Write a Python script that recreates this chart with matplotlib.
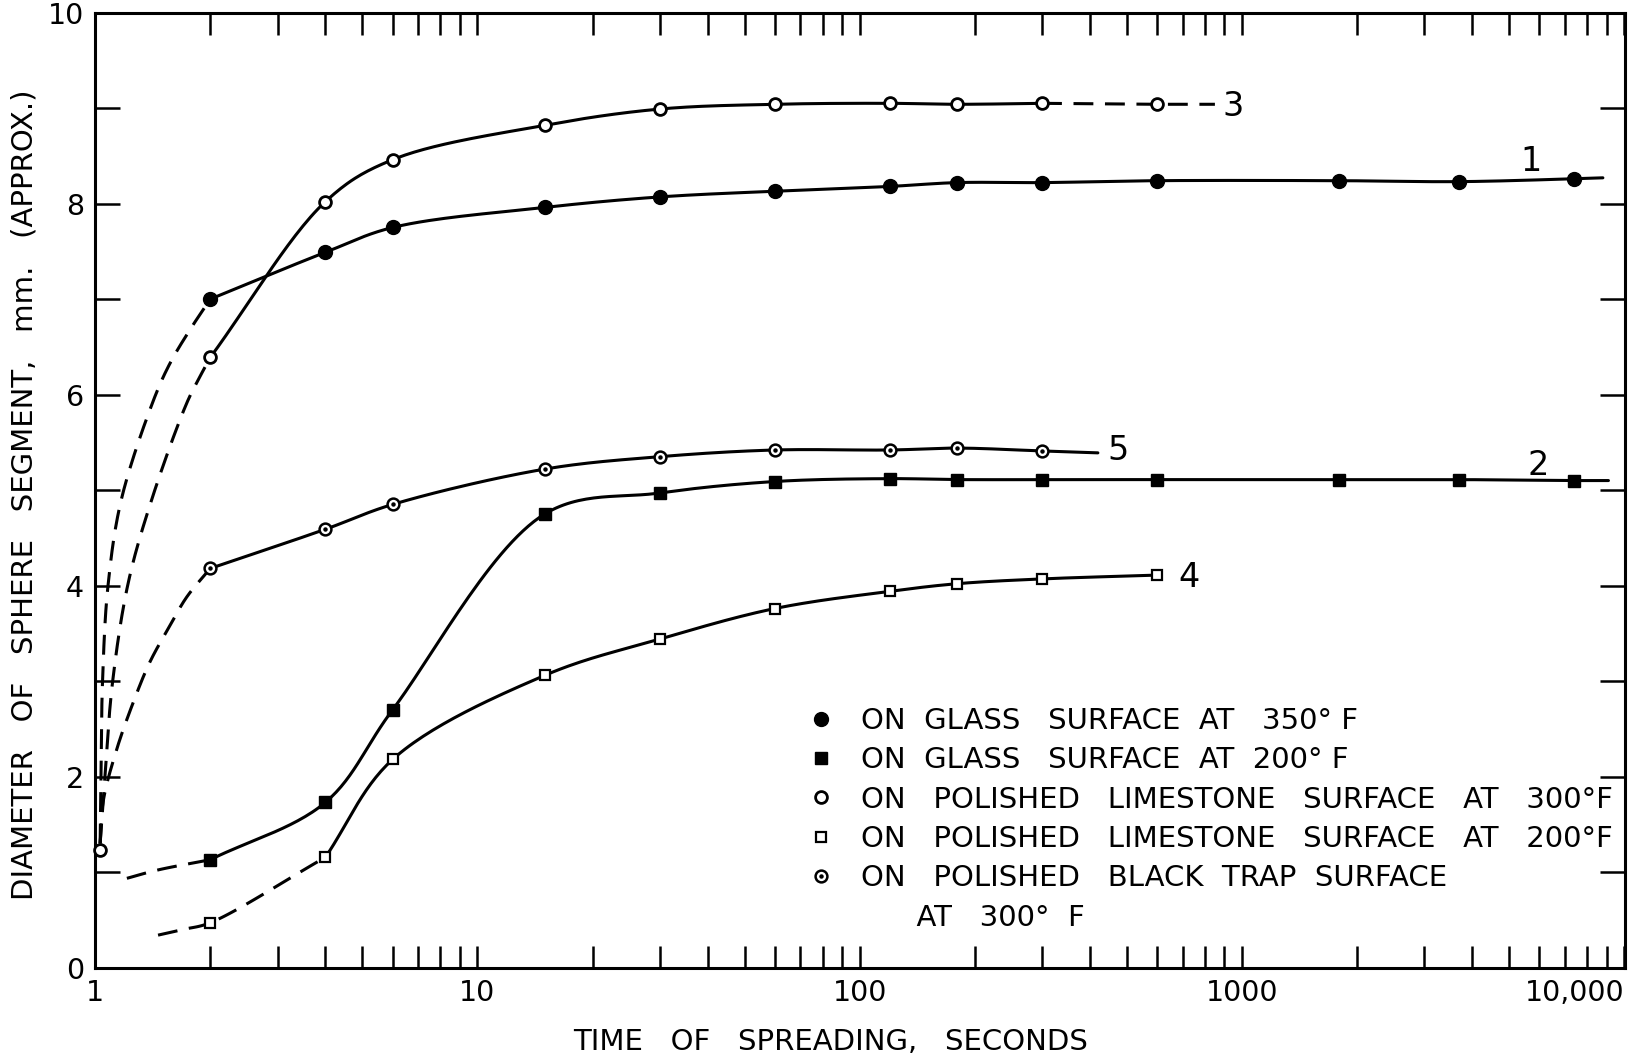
import numpy as np
import matplotlib
matplotlib.use('Agg')
import matplotlib.pyplot as plt
from matplotlib.lines import Line2D
from matplotlib.legend_handler import HandlerTuple
from matplotlib.ticker import FixedLocator, NullFormatter

plt.rcParams['font.family'] = ['DejaVu Sans']

# time of spreading, seconds
t = [2, 4, 6, 15, 30, 60, 120, 180, 300, 600, 1800, 3700, 7400]

# 1: glass surface, 350 F
t1 = t
d1 = [7.0, 7.49, 7.75, 7.96, 8.07, 8.13, 8.18, 8.22, 8.22, 8.24, 8.24, 8.23, 8.26]
# 2: glass surface, 200 F
t2 = t
d2 = [1.13, 1.73, 2.70, 4.75, 4.97, 5.09, 5.12, 5.11, 5.11, 5.11, 5.11, 5.11, 5.10]
# 3: polished limestone, 300 F
t3 = [2, 4, 6, 15, 30, 60, 120, 180, 300, 600]
d3 = [6.39, 8.02, 8.46, 8.82, 8.99, 9.04, 9.05, 9.04, 9.05, 9.04]
t3_first, d3_first = 1.03, 1.23
# 4: polished limestone, 200 F
t4 = [2, 4, 6, 15, 30, 60, 120, 180, 300, 600]
d4 = [0.47, 1.155, 2.18, 3.06, 3.44, 3.76, 3.94, 4.02, 4.07, 4.11]
# 5: polished black trap, 300 F
t5 = [2, 4, 6, 15, 30, 60, 120, 180, 300]
d5 = [4.18, 4.59, 4.85, 5.22, 5.35, 5.42, 5.42, 5.44, 5.41]

# dashed lead-in curves (extrapolated by eye below 2 s)
lead1_t = [1.03, 1.035, 1.045, 1.08, 1.17, 1.42, 1.57, 1.77, 2.0]
lead1_d = [1.3, 2.0, 3.0, 4.0, 4.9, 5.94, 6.33, 6.68, 7.0]
lead3_t = [1.03, 1.06, 1.11, 1.22, 1.405, 1.735, 1.88, 2.0]
lead3_d = [1.3, 2.0, 2.99, 4.03, 4.9, 5.91, 6.19, 6.39]
lead5_t = [1.03, 1.05, 1.137, 1.258, 1.39, 1.568, 1.735, 2.0]
lead5_d = [1.3, 1.75, 2.28, 2.78, 3.2, 3.58, 3.88, 4.18]
lead2_t = [1.21, 1.45, 2.0]
lead2_d = [0.935, 1.02, 1.13]
lead4_t = [1.46, 1.7]
lead4_d = [0.34, 0.40]

# line ends past the last point
end1 = (8800, 8.27)
end2 = (9100, 5.10)
end5 = (420, 5.39)
tail3_t = [300, 600, 850]
tail3_d = [9.05, 9.04, 9.04]

xticks = [1, 10, 100, 1000, 10000]
xticklabels = ['1', '10', '100', '1000', '10,000']
yticks = [0, 2, 4, 6, 8, 10]

K = 4.0  # px per decade / px per mm on the page


def smooth(tx, dy, n=30):
    # centripetal Catmull-Rom through the points, in log-time space
    P = np.column_stack([np.log10(tx) * K, dy]).astype(float)
    P = np.vstack([2 * P[0] - P[1], P, 2 * P[-1] - P[-2]])
    out = []
    for i in range(len(P) - 3):
        p0, p1, p2, p3 = P[i:i + 4]
        s0 = 0.0
        s1 = s0 + np.linalg.norm(p1 - p0) ** 0.5
        s2 = s1 + np.linalg.norm(p2 - p1) ** 0.5
        s3 = s2 + np.linalg.norm(p3 - p2) ** 0.5
        s = np.linspace(s1, s2, n, endpoint=False)[:, None]
        a1 = (s1 - s) / (s1 - s0) * p0 + (s - s0) / (s1 - s0) * p1
        a2 = (s2 - s) / (s2 - s1) * p1 + (s - s1) / (s2 - s1) * p2
        a3 = (s3 - s) / (s3 - s2) * p2 + (s - s2) / (s3 - s2) * p3
        b1 = (s2 - s) / (s2 - s0) * a1 + (s - s0) / (s2 - s0) * a2
        b2 = (s3 - s) / (s3 - s1) * a2 + (s - s1) / (s3 - s1) * a3
        out.append((s2 - s) / (s2 - s1) * b1 + (s - s1) / (s2 - s1) * b2)
    out.append(P[-2:-1])
    c = np.vstack(out)
    return 10 ** (c[:, 0] / K), c[:, 1]


fig = plt.figure(figsize=(16.42, 10.59), dpi=100)
ax = fig.add_axes([0.058, 0.0863, 0.9316, 0.9018])

LW = 2.2
solid = dict(color='k', lw=LW, solid_capstyle='round', zorder=2)
dashed = dict(color='k', lw=LW, linestyle=(0, (6.5, 3.8)), zorder=2)

ax.plot(*smooth(t1 + [end1[0]], d1 + [end1[1]]), **solid)
ax.plot(*smooth(t2 + [end2[0]], d2 + [end2[1]]), **solid)
ax.plot(*smooth(t3[:-1], d3[:-1]), **solid)
ax.plot(*smooth(t4[1:], d4[1:]), **solid)
ax.plot(*smooth(t5 + [end5[0]], d5 + [end5[1]]), **solid)

ax.plot(*smooth(lead1_t, lead1_d), **dashed)
ax.plot(*smooth(lead3_t, lead3_d), **dashed)
ax.plot(*smooth(lead5_t, lead5_d), **dashed)
ax.plot(*smooth(lead2_t, lead2_d), **dashed)
ax.plot(*smooth(lead4_t + t4[:2], lead4_d + d4[:2]), **dashed)
ax.plot(tail3_t, tail3_d, **dashed)

m1 = dict(marker='o', ms=10, mfc='k', mec='k', ls='none')
m2 = dict(marker='s', ms=8, mfc='k', mec='k', ls='none')
m3 = dict(marker='o', ms=8.5, mfc='white', mec='k', mew=2, ls='none')
m4 = dict(marker='s', ms=6.5, mfc='white', mec='k', mew=1.6, ls='none')
m5 = dict(marker='o', ms=8.5, mfc='white', mec='k', mew=1.8, ls='none')
m5dot = dict(marker='o', ms=2.2, mfc='k', mec='k', ls='none')

ax.plot(t1, d1, zorder=3, **m1)
ax.plot(t2, d2, zorder=3, **m2)
ax.plot(t3, d3, zorder=3, **m3)
ax.plot([t3_first], [d3_first], zorder=3, clip_on=False, **m3)
ax.plot(t4, d4, zorder=3, **m4)
ax.plot(t5, d5, zorder=3, **m5)
ax.plot(t5, d5, zorder=4, **m5dot)

# curve numbers
num = dict(fontsize=24, ha='center', va='center')
ax.text(951, 9.02, '3', **num)
ax.text(5700, 8.44, '1', **num)
ax.text(473, 5.41, '5', **num)
ax.text(5970, 5.26, '2', **num)
ax.text(727, 4.09, '4', **num)

FS = 21
handles = [Line2D([], [], **m1), Line2D([], [], **m2), Line2D([], [], **m3),
           Line2D([], [], **m4),
           (Line2D([], [], **m5), Line2D([], [], **m5dot)),
           Line2D([], [], ls='none')]
labels = ['ON  GLASS   SURFACE  AT   350° F',
          'ON  GLASS   SURFACE  AT  200° F',
          'ON   POLISHED   LIMESTONE   SURFACE   AT   300°F',
          'ON   POLISHED   LIMESTONE   SURFACE   AT   200°F',
          'ON   POLISHED   BLACK  TRAP  SURFACE',
          '      AT   300°  F']
ax.legend(handles, labels, loc='upper left', bbox_to_anchor=(0.4646, 0.273),
          frameon=False, borderpad=0, borderaxespad=0, handlelength=1.0,
          handletextpad=0.88, labelspacing=0.39, fontsize=FS,
          handler_map={tuple: HandlerTuple(ndivide=1)})

ax.set_xscale('log')
ax.set_xlim(1, 10050)
ax.set_ylim(0, 10)
ax.xaxis.set_major_locator(FixedLocator(xticks))
ax.set_xticklabels(xticklabels)
ax.get_xticklabels()[-1].set_ha('right')
minor_x = [m * 10 ** e for e in range(4) for m in range(2, 10)]
ax.xaxis.set_minor_locator(FixedLocator(minor_x))
ax.xaxis.set_minor_formatter(NullFormatter())
ax.set_yticks(yticks)
ax.set_yticks([1, 3, 5, 7, 9], minor=True)

ax.tick_params(which='both', direction='in', top=True, right=True,
               width=1.8, labelsize=20.5, pad=8)
ax.tick_params(axis='x', which='both', length=16)
ax.tick_params(axis='y', which='both', length=18)
for sp in ax.spines.values():
    sp.set_linewidth(2.2)

ax.set_xlabel('TIME   OF   SPREADING,   SECONDS', fontsize=FS)
ax.xaxis.set_label_coords(0.4809, -0.0629)
ax.set_ylabel('DIAMETER   OF   SPHERE   SEGMENT,   mm.   (APPROX.)', fontsize=FS)
ax.yaxis.set_label_coords(-0.0368, 0.495)

fig.savefig('out.png', dpi=100, facecolor='white')
